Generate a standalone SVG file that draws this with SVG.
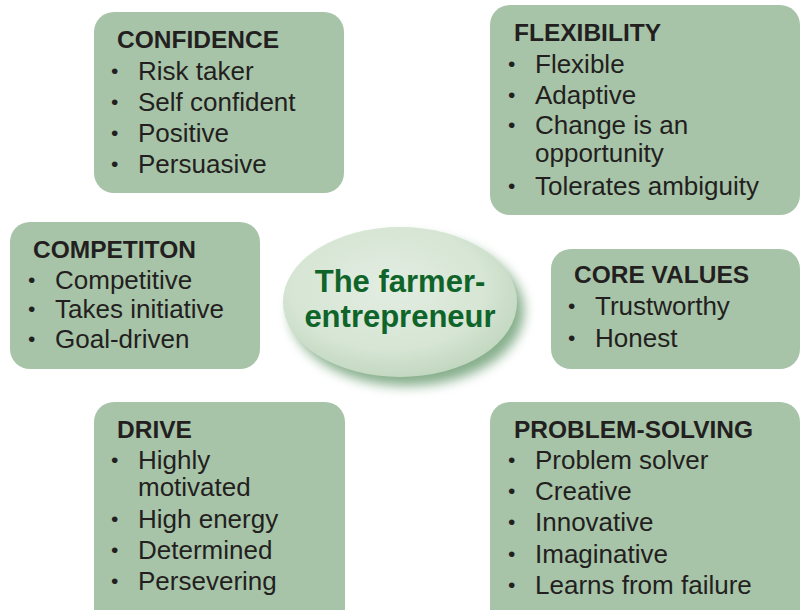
<svg xmlns="http://www.w3.org/2000/svg" width="803" height="610" viewBox="0 0 803 610">
<defs>
<style>
.box{fill:#a7c4a8;}
.t{font-family:"Liberation Sans",Arial,sans-serif;font-weight:bold;font-size:24.5px;fill:#231f20;}
.i{font-family:"Liberation Sans",Arial,sans-serif;font-size:26px;fill:#231f20;}
.b{font-family:"Liberation Sans",Arial,sans-serif;font-size:21px;fill:#231f20;}
.c{font-family:"Liberation Sans",Arial,sans-serif;font-weight:bold;font-size:31px;fill:#0f642a;text-anchor:middle;}
</style>
<radialGradient id="eg" cx="0.45" cy="0.4" r="0.6">
<stop offset="0" stop-color="#e3ede2"/>
<stop offset="0.7" stop-color="#d6e5d4"/>
<stop offset="1" stop-color="#c3d8c1"/>
</radialGradient>
<filter id="blur" x="-20%" y="-20%" width="140%" height="140%">
<feGaussianBlur stdDeviation="6"/>
</filter>
</defs>
<rect width="803" height="610" fill="#ffffff"/>
<g id="connectors"></g>
<g id="center">
<ellipse cx="407" cy="311" rx="117" ry="75" fill="#5f9466" opacity="0.75" filter="url(#blur)"/>
<ellipse cx="400" cy="302" rx="117" ry="75" fill="url(#eg)"/>
<text class="c" x="400" y="292">The farmer-</text>
<text class="c" x="400" y="327">entrepreneur</text>
</g>
<g id="confidence">
<rect class="box" x="94" y="12" width="250" height="181" rx="20"/>
<text class="t" x="117" y="48">CONFIDENCE</text>
<text class="b" x="111" y="78">•</text><text class="i" x="138" y="80">Risk taker</text>
<text class="b" x="111" y="109">•</text><text class="i" x="138" y="111">Self confident</text>
<text class="b" x="111" y="140">•</text><text class="i" x="138" y="142">Positive</text>
<text class="b" x="111" y="171">•</text><text class="i" x="138" y="173">Persuasive</text>
</g>
<g id="flexibility">
<rect class="box" x="490" y="5" width="310" height="210" rx="20"/>
<text class="t" x="514" y="41">FLEXIBILITY</text>
<text class="b" x="508" y="71">•</text><text class="i" x="535" y="73">Flexible</text>
<text class="b" x="508" y="102">•</text><text class="i" x="535" y="104">Adaptive</text>
<text class="b" x="508" y="132">•</text><text class="i" x="535" y="134">Change is an</text>
<text class="i" x="535" y="162">opportunity</text>
<text class="b" x="508" y="193">•</text><text class="i" x="535" y="195">Tolerates ambiguity</text>
</g>
<g id="competition">
<rect class="box" x="10" y="222" width="250" height="147" rx="20"/>
<text class="t" x="33" y="258">COMPETITON</text>
<text class="b" x="28" y="287">•</text><text class="i" x="55" y="289">Competitive</text>
<text class="b" x="28" y="316">•</text><text class="i" x="55" y="318">Takes initiative</text>
<text class="b" x="28" y="346">•</text><text class="i" x="55" y="348">Goal-driven</text>
</g>
<g id="core-values">
<rect class="box" x="551" y="249" width="249" height="120" rx="20"/>
<text class="t" x="574" y="283">CORE VALUES</text>
<text class="b" x="568" y="313">•</text><text class="i" x="595" y="315">Trustworthy</text>
<text class="b" x="568" y="345">•</text><text class="i" x="595" y="347">Honest</text>
</g>
<g id="drive">
<rect class="box" x="94" y="402" width="251" height="228" rx="20"/>
<text class="t" x="117" y="438">DRIVE</text>
<text class="b" x="111" y="467">•</text><text class="i" x="138" y="469">Highly</text>
<text class="i" x="138" y="496">motivated</text>
<text class="b" x="111" y="526">•</text><text class="i" x="138" y="528">High energy</text>
<text class="b" x="111" y="557">•</text><text class="i" x="138" y="559">Determined</text>
<text class="b" x="111" y="588">•</text><text class="i" x="138" y="590">Persevering</text>
</g>
<g id="problem-solving">
<rect class="box" x="490" y="402" width="310" height="228" rx="20"/>
<text class="t" x="514" y="438">PROBLEM-SOLVING</text>
<text class="b" x="508" y="467">•</text><text class="i" x="535" y="469">Problem solver</text>
<text class="b" x="508" y="498">•</text><text class="i" x="535" y="500">Creative</text>
<text class="b" x="508" y="529">•</text><text class="i" x="535" y="531">Innovative</text>
<text class="b" x="508" y="561">•</text><text class="i" x="535" y="563">Imaginative</text>
<text class="b" x="508" y="592">•</text><text class="i" x="535" y="594">Learns from failure</text>
</g>
</svg>
